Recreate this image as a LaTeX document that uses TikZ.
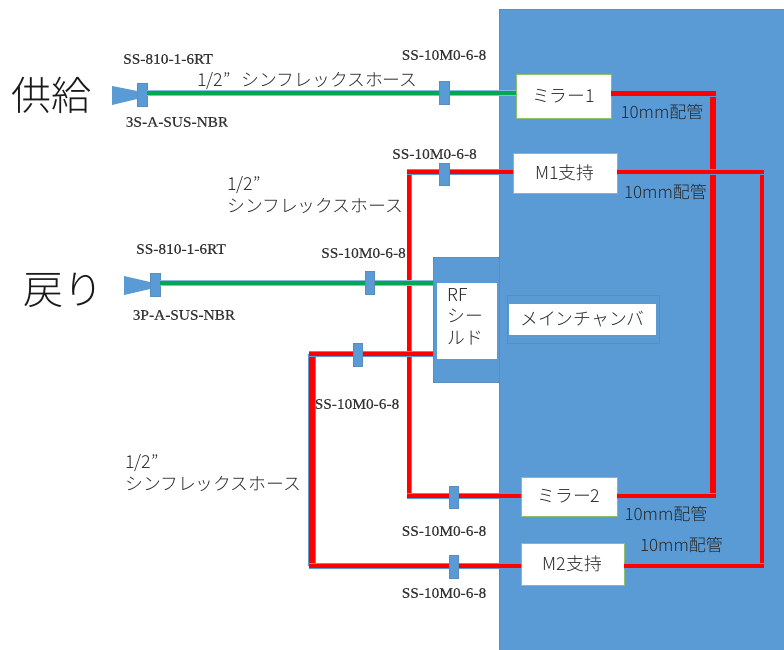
\documentclass[tikz,border=0pt]{standalone}
\usepackage{fontspec}
\setmainfont[UprightFont={* Light},BoldFont={* Medium}]{Noto Sans CJK JP}
\newfontfamily\ssfont[FakeStretch=1.06,FakeBold=0.25]{Liberation Serif}
\definecolor{bluefill}{HTML}{5B9BD5}
\definecolor{blueedge}{HTML}{5A8DBE}
\definecolor{boxedge}{HTML}{8FC06A}
\definecolor{pipegreen}{HTML}{00A84F}
\definecolor{inktext}{HTML}{262626}
\tikzset{
  x=1pt,y=-1pt,
  panel/.style={draw=blueedge,line width=0.7pt,fill=bluefill,inner sep=0,outer sep=0,anchor=north west},
  whitebox/.style={fill=white,inner sep=0,outer sep=0,anchor=center,text=inktext,font=\fontsize{17.8}{22}\selectfont,align=center},
  unitbox/.style={whitebox,draw=boxedge,line width=0.9pt},
  fitting/.style={panel,draw=blueedge,line width=0.6pt,anchor=center},
  redpipe/.style={draw=bluefill,double=red,double distance=#1,line width=0.8pt,line join=miter},
  redpipe/.default=4.7pt,
  greenpipe/.style={draw=bluefill!70,double=pipegreen,double distance=4.4pt,line width=0.8pt},
  partlabel/.style={inner sep=0,anchor=center,text=black!80,font=\fontsize{14.5}{16}\ssfont},
  pipelabel/.style={inner sep=0,anchor=west,text=inktext,font=\fontsize{17.8}{22}\selectfont,align=left},
  sizelabel/.style={inner sep=0,anchor=center,text=inktext,font=\fontsize{17}{20}\selectfont},
  biglabel/.style={inner sep=0,anchor=center,text=black!90,font=\fontsize{40}{42}\selectfont},
}
\begin{document}
\begin{tikzpicture}
\useasboundingbox (0,0) rectangle (784,650);
\fill[white] (0,0) rectangle (784,650);
% main panels
\node[panel,minimum width=285pt,minimum height=641pt] (vessel) at (499,9) {};
\node[panel,minimum width=66pt,minimum height=125pt] (shield) at (433,257) {};
\node[panel,line width=1pt,minimum width=152pt,minimum height=48pt] (chamber) at (507,295) {};
% units
\node[unitbox,minimum width=95pt,minimum height=44pt] (mirA) at (563.5,96) {ミラー1};
\node[unitbox,minimum width=104pt,minimum height=40pt] (supA) at (565,173) {M1支持};
\node[unitbox,minimum width=96pt,minimum height=39pt] (mirB) at (569,496.5) {ミラー2};
\node[unitbox,minimum width=103pt,minimum height=42pt] (supB) at (572.5,564) {M2支持};
\node[whitebox,minimum width=60pt,minimum height=76pt] (rfbox) at (467,321) {};
\node[pipelabel,anchor=north west] (rftext) at (447,288) {RF\\[-0.5pt]シー\\[-0.5pt]ルド};
\node[whitebox,minimum width=147pt,minimum height=31pt] (mainbox) at (582.5,319.5) {メインチャンバ};
% bend points
\coordinate (aE) at (716,93.5);
\coordinate (aV) at (713,93.5);
\coordinate (bE) at (716,496);
\coordinate (bV) at (713,496);
\coordinate (cE) at (763.5,172);
\coordinate (cV) at (762,172);
\coordinate (dE) at (763.5,566);
\coordinate (dV) at (762,566);
\coordinate (eL) at (409,172);
\coordinate (eB) at (409,496);
\coordinate (fL) at (312,354);
\coordinate (fB) at (312,566);
% pipes
\draw[redpipe=5.6pt] (aV |- aE) ++(0,2) -- (bV);
\draw[redpipe=3.4pt] (cV) -- (dV);
\draw[redpipe=3.4pt] (eL) -- (eB);
\draw[redpipe=5.6pt] (fL) -- (fB);
\draw[redpipe] (mirA.east |- aE) -- (aE);
\draw[redpipe] (supA.east |- cE) -- (cE);
\draw[redpipe] (mirB.east |- bE) -- (bE);
\draw[redpipe] (supB.east |- dE) -- (dE);
\draw[redpipe] (supA.west |- eL) -- ([xshift=-2pt]eL);
\draw[redpipe] (mirB.west |- eB) -- ([xshift=-2pt]eB);
\draw[redpipe] (shield.west |- fL) -- ([xshift=-3pt]fL);
\draw[redpipe] (supB.west |- fB) -- ([xshift=-3pt]fB);
% supply and return ends
\coordinate (feedY) at (0,93);
\coordinate (backY) at (0,283);
\node[fitting,minimum width=10pt,minimum height=23pt] (fsA) at (142,94.5) {};
\node[fitting,minimum width=10pt,minimum height=23pt] (frA) at (155,284.5) {};
\draw[greenpipe] (fsA.east |- feedY) -- (mirA.west |- feedY);
\draw[greenpipe] (frA.east |- backY) -- (shield.west |- backY);
\fill[bluefill] (112,86) -- (137,91) -- (137,99) -- (112,105) -- cycle;
\fill[bluefill] (124,276) -- (150,282) -- (150,289) -- (124,295) -- cycle;
% fittings
\node[fitting,minimum width=10pt,minimum height=23pt] (f1) at (444,92.5) {};
\node[fitting,minimum width=10pt,minimum height=22pt] (f2) at (444.5,174) {};
\node[fitting,minimum width=9pt,minimum height=23pt] (f3) at (369.5,282.5) {};
\node[fitting,minimum width=9pt,minimum height=23pt] (f4) at (357.5,354.5) {};
\node[fitting,minimum width=9pt,minimum height=22pt] (f5) at (453.5,497) {};
\node[fitting,minimum width=9pt,minimum height=23pt] (f6) at (453.5,566.5) {};
% big labels
\node[biglabel] (tSupply) at (52,95) {供給};
\node[biglabel] (tReturn) at (63.5,290) {戻り};
% part labels
\node[partlabel] (p1) at (168,59) {SS-810-1-6RT};
\node[partlabel] (p2) at (177,122) {3S-A-SUS-NBR};
\node[partlabel] (p3) at (444,55) {SS-10M0-6-8};
\node[partlabel] (p4) at (434.5,154) {SS-10M0-6-8};
\node[partlabel] (p5) at (181,249) {SS-810-1-6RT};
\node[partlabel] (p6) at (184,315) {3P-A-SUS-NBR};
\node[partlabel] (p7) at (363.5,253) {SS-10M0-6-8};
\node[partlabel] (p8) at (357,404) {SS-10M0-6-8};
\node[partlabel] (p9) at (444,531) {SS-10M0-6-8};
\node[partlabel] (p10) at (444,593) {SS-10M0-6-8};
% pipe labels
\node[pipelabel] (h1) at (197,81) {1/2”\hspace{7pt} シンフレックスホース};
\node[pipelabel] (h2) at (227,195) {1/2”\\シンフレックスホース};
\node[pipelabel] (h3) at (125,473) {1/2”\\シンフレックスホース};
% size labels
\node[sizelabel] (s1) at (662,112) {10mm配管};
\node[sizelabel] (s2) at (665.5,192) {10mm配管};
\node[sizelabel] (s3) at (666,514) {10mm配管};
\node[sizelabel] (s4) at (681.5,545) {10mm配管};
\end{tikzpicture}
\end{document}
